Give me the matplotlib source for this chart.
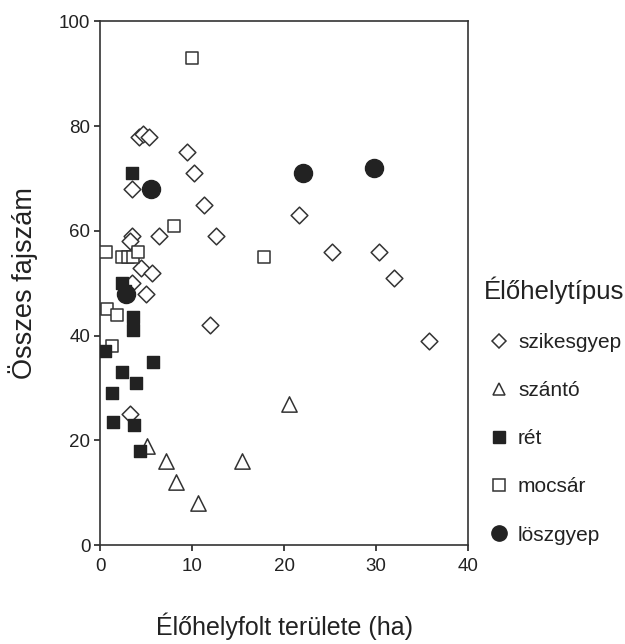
import matplotlib
matplotlib.use('Agg')
from matplotlib import pyplot as plt
from matplotlib.lines import Line2D

plt.rcParams['font.family'] = ['Liberation Sans', 'DejaVu Sans']

# adatok leolvasva az ábráról: terület (ha), összes fajszám
szikes_x = [4.2, 4.7, 5.3, 9.5, 10.2, 3.5, 11.3, 12.6, 6.4, 3.5, 3.3, 4.5, 5.6,
            3.5, 5.0, 11.9, 3.3, 21.6, 25.2, 30.3, 31.9, 35.8]
szikes_y = [78, 78.5, 78, 75, 71, 68, 65, 59, 59, 59, 58, 53, 52,
            50, 48, 42, 25, 63, 56, 56, 51, 39]

szanto_x = [5.1, 7.2, 8.3, 10.7, 15.4, 20.5]
szanto_y = [19, 16, 12, 8, 16, 27]

ret_x = [3.5, 2.4, 2.7, 3.6, 3.6, 0.5, 5.8, 2.4, 3.9, 1.3, 1.4, 3.7, 4.3]
ret_y = [71, 50, 48.5, 43.5, 41, 37, 35, 33, 31, 29, 23.5, 23, 18]

mocsar_x = [10.0, 0.6, 2.4, 3.0, 3.6, 4.1, 8.0, 17.8, 0.8, 1.8, 1.3]
mocsar_y = [93, 56, 55, 55, 55, 56, 61, 55, 45, 44, 38]

losz_x = [5.5, 2.8, 22.1, 29.8]
losz_y = [68, 48, 71, 72]

edge = '#333333'
dark = '#222222'

fig = plt.figure(figsize=(6.25, 6.44), dpi=100)
ax = fig.add_axes([0.16, 0.1537, 0.589, 0.813])

ax.scatter(szikes_x, szikes_y, s=8.5**2, marker='D', facecolors='white',
           edgecolors=edge, linewidths=1.1, zorder=3)
ax.scatter(szanto_x, szanto_y, s=11**2, marker='^', facecolors='white',
           edgecolors=edge, linewidths=1.1, zorder=3)
ax.scatter(mocsar_x, mocsar_y, s=8.5**2, marker='s', facecolors='white',
           edgecolors=edge, linewidths=1.1, zorder=3)
ax.scatter(ret_x, ret_y, s=8.5**2, marker='s', facecolors=dark,
           edgecolors=dark, linewidths=1.0, zorder=4)
ax.scatter(losz_x, losz_y, s=13**2, marker='o', facecolors=dark,
           edgecolors=dark, linewidths=1.0, zorder=4)

ax.set_xlim(0, 40)
ax.set_ylim(0, 100)
ax.set_xticks([0, 10, 20, 30, 40])
ax.set_yticks([0, 20, 40, 60, 80, 100])
ax.tick_params(length=4, width=1.2, labelsize=13.5, colors=dark, pad=3)
ax.tick_params(axis='x', pad=5)
for sp in ax.spines.values():
    sp.set_linewidth(1.2)
    sp.set_color(edge)

ax.set_xlabel('Élőhelyfolt területe (ha)', fontsize=18, color=dark)
ax.xaxis.set_label_coords(0.5, -0.128)
ax.set_ylabel('Összes fajszám', fontsize=19.5, color=dark)
ax.yaxis.set_label_coords(-0.168, 0.5)

handles = [
    Line2D([], [], ls='none', marker='D', ms=7, mfc='white', mec=edge, mew=1.1),
    Line2D([], [], ls='none', marker='^', ms=9, mfc='white', mec=edge, mew=1.1),
    Line2D([], [], ls='none', marker='s', ms=8, mfc=dark, mec=dark),
    Line2D([], [], ls='none', marker='s', ms=8, mfc='white', mec=edge, mew=1.1),
    Line2D([], [], ls='none', marker='o', ms=11, mfc=dark, mec=dark),
]
labels = ['szikesgyep', 'szántó', 'rét', 'mocsár', 'löszgyep']
leg = fig.legend(handles, labels, title='Élőhelytípus', loc='upper left',
                 bbox_to_anchor=(0.7541, 0.5904), frameon=False, fontsize=15,
                 title_fontsize=18.5, labelspacing=1.4, handlelength=1.44,
                 handletextpad=0.2, borderaxespad=0, borderpad=0.6)
leg._legend_box.align = 'left'
for t in leg.get_texts():
    t.set_color(dark)
leg.get_title().set_color(dark)

fig.savefig('out.png', dpi=100)
